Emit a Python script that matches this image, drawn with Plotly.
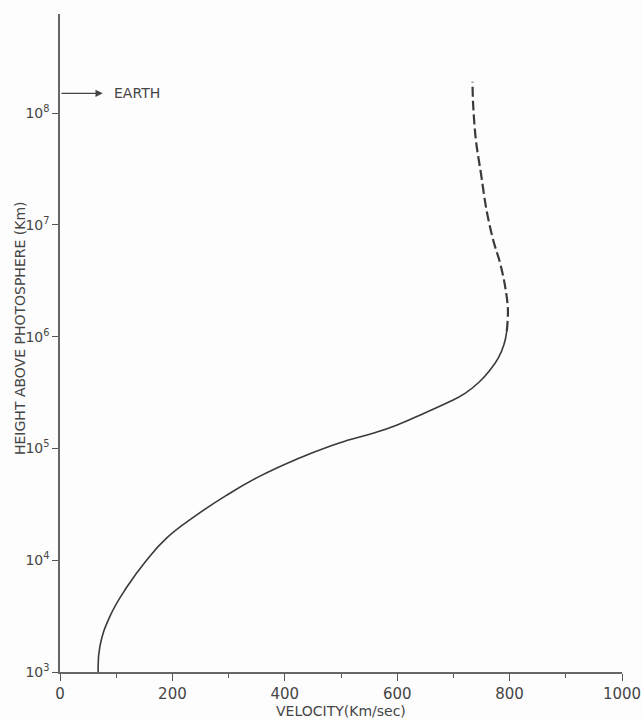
import plotly.graph_objects as go

# Solid part of the curve (velocity km/s, log10 height km)
vel_solid = [68, 71, 89, 119, 154, 190, 239, 296, 355, 424, 480, 510, 560, 600, 650, 690, 720, 745, 765, 780, 790, 795]
log_h_solid = [3.00, 3.23, 3.50, 3.76, 4.00, 4.20, 4.39, 4.58, 4.75, 4.91, 5.02, 5.07, 5.14, 5.21, 5.32, 5.41, 5.49, 5.59, 5.70, 5.81, 5.93, 6.05]
h_solid = [10 ** v for v in log_h_solid]

# Dashed (extrapolated) part
vel_dash = [795, 797, 792, 783, 771, 759, 749, 740, 735, 734]
log_h_dash = [6.05, 6.24, 6.45, 6.66, 6.86, 7.13, 7.46, 7.76, 8.09, 8.28]
h_dash = [10 ** v for v in log_h_dash]

x_ticks = [0, 200, 400, 600, 800, 1000]
y_ticks = [1e3, 1e4, 1e5, 1e6, 1e7, 1e8]
y_ticktext = ["10<sup>3</sup>", "10<sup>4</sup>", "10<sup>5</sup>", "10<sup>6</sup>", "10<sup>7</sup>", "10<sup>8</sup>"]
earth_log_height = 8.176

INK = "#3a3a3a"
TXT = "#454545"
FONT = "DejaVu Sans"

fig = go.Figure()
fig.add_trace(go.Scatter(x=vel_solid, y=h_solid, mode="lines",
                         line=dict(color=INK, width=1.6, shape="spline", smoothing=1.3), showlegend=False))
fig.add_trace(go.Scatter(x=vel_dash, y=h_dash, mode="lines",
                         line=dict(color=INK, width=2.2, dash="10px,4px", shape="spline", smoothing=1.0),
                         showlegend=False))

fig.update_layout(
    width=642, height=719,
    margin=dict(l=60, r=20, t=14, b=47),
    paper_bgcolor="#fdfdfd", plot_bgcolor="#fdfdfd",
    font=dict(family=FONT, color=TXT, size=14),
    showlegend=False,
)
fig.update_xaxes(
    range=[0, 1000], tickvals=x_ticks, ticktext=[str(v) for v in x_ticks],
    ticks="outside", ticklen=7, tickwidth=1.2, tickcolor="#555",
    minor=dict(dtick=100, ticks="outside", ticklen=4, tickcolor="#555", tickwidth=1.2),
    showline=True, linecolor="#666", linewidth=1.5, showgrid=False, zeroline=False,
    tickfont=dict(size=15, family=FONT, color=TXT), automargin=False,
)
fig.update_yaxes(
    type="log", range=[3, 8.886], tickvals=y_ticks, ticktext=y_ticktext,
    ticks="outside", ticklen=6, tickwidth=1.2, tickcolor="#555",
    showline=True, linecolor="#666", linewidth=1.5, showgrid=False, zeroline=False,
    tickfont=dict(size=14, family=FONT, color=TXT), automargin=False,
)

# Axis titles as annotations (positioned as in the original)
fig.add_annotation(text="VELOCITY(Km/sec)", xref="paper", yref="paper",
                   x=(341 - 60) / 562, y=-(711 - 672) / 658, showarrow=False,
                   xanchor="center", yanchor="middle",
                   font=dict(size=14, family=FONT, color=TXT))
fig.add_annotation(text="HEIGHT ABOVE PHOTOSPHERE (Km)", xref="paper", yref="paper",
                   x=-(60 - 20) / 562, y=(672 - 328) / 658, showarrow=False,
                   textangle=-90, xanchor="center", yanchor="middle",
                   font=dict(size=14, family=FONT, color=TXT))

# Earth arrow
fig.add_annotation(x=76, y=earth_log_height, xref="x", yref="y", ax=0, ay=earth_log_height,
                   axref="x", ayref="y", text="", showarrow=True, arrowhead=2, arrowsize=1.2,
                   arrowwidth=1.2, arrowcolor="#444")
fig.add_annotation(text="EARTH", x=92, y=earth_log_height, xref="x", yref="y", showarrow=False,
                   xanchor="left", yanchor="middle",
                   font=dict(size=14, family=FONT, color=TXT))

fig.write_html("out.html")
